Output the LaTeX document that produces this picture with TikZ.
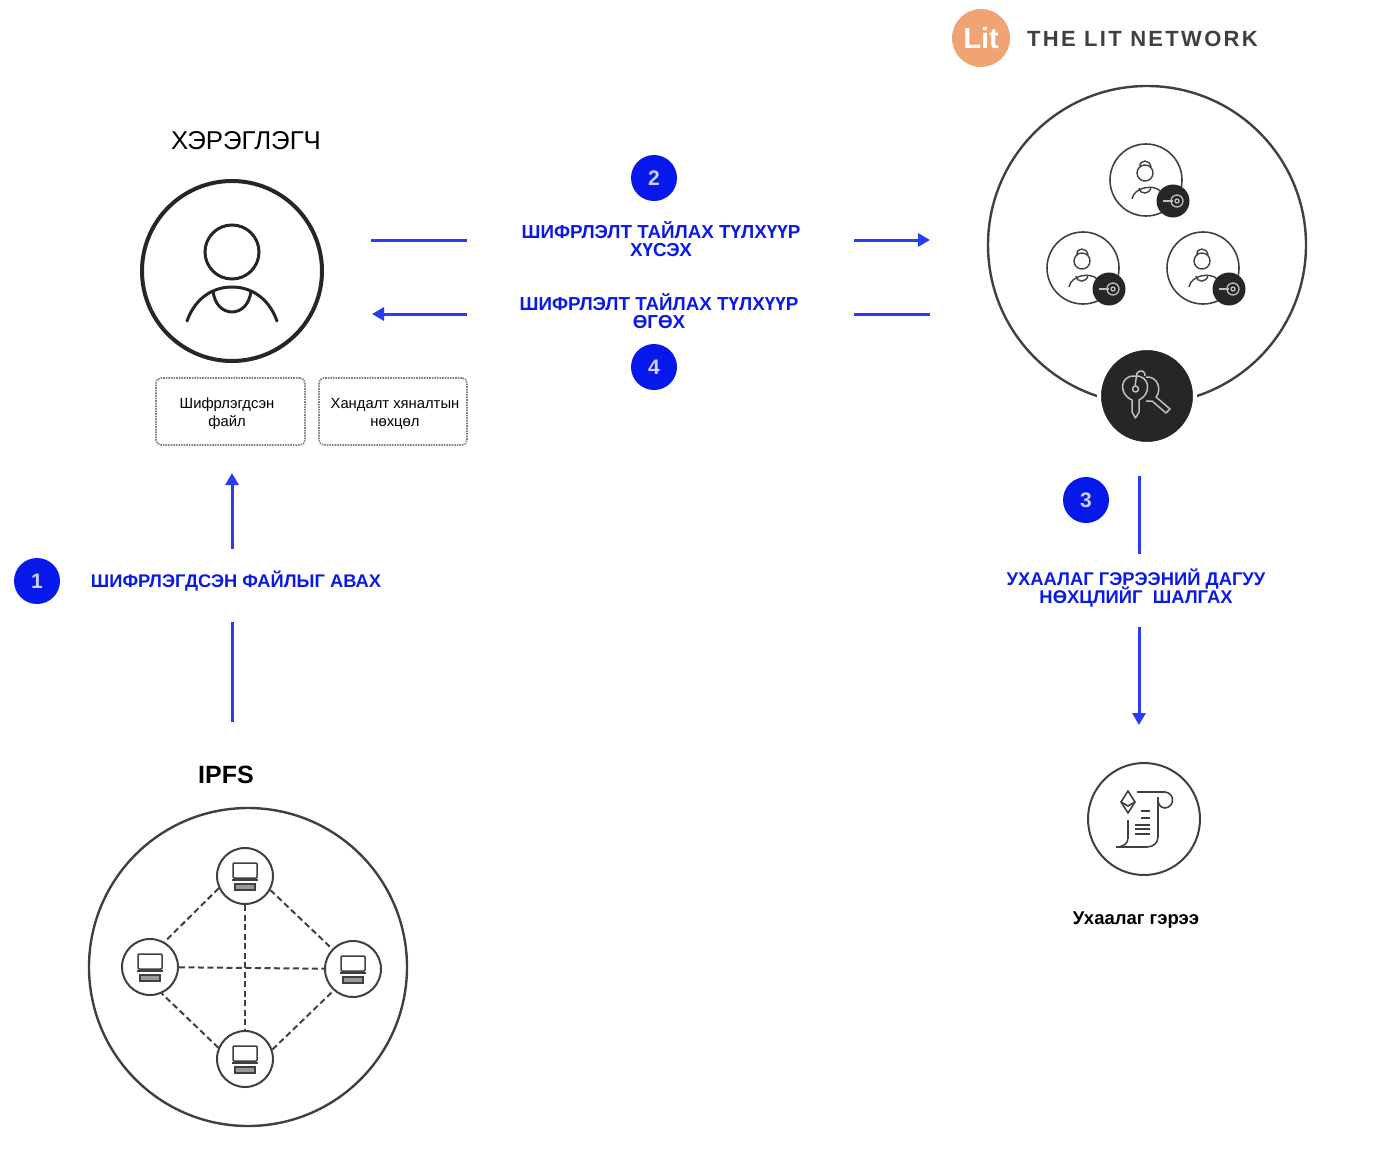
\documentclass[tikz,border=0pt]{standalone}
\usepackage{fontspec}
\usepackage{xcolor}
\usepackage{tikz}
\usetikzlibrary{arrows.meta}
\setmainfont{Liberation Sans}
\newfontfamily\logofont[LetterSpace=10.5]{Liberation Sans}
\definecolor{flowblue}{HTML}{2A3BF5}
\definecolor{textblue}{HTML}{0A1AE6}
\definecolor{badgeblue}{HTML}{0718EA}
\definecolor{litorange}{HTML}{F0A474}
\definecolor{keydark}{HTML}{262626}
\definecolor{icongray}{HTML}{404040}
\tikzset{
  flow/.style={draw=flowblue, line width=3pt},
  flowtip/.style={flow, -{Triangle[length=12pt,width=13pt]}},
  badge/.style={circle, fill=badgeblue, minimum size=46pt, inner sep=0pt, text=white!80!badgeblue, font=\bfseries\fontsize{21}{21}\selectfont},
  flowlabel/.style={text=textblue, align=center, inner sep=0pt, execute at begin node={\lineskiplimit=-20pt}, font=\bfseries\fontsize{18.8}{18}\selectfont},
  notebox/.style={draw=gray, densely dotted, line width=1.6pt, rounded corners=5pt, minimum height=67pt},
  notetext/.style={align=center, inner sep=0pt, font=\fontsize{14.8}{18}\selectfont},
  peer/.style={circle, draw=icongray, line width=1.6pt, minimum size=72pt, inner sep=0pt},
  keybadge/.style={circle, fill=keydark, minimum size=33pt, inner sep=0pt},
  hostnode/.style={circle, draw=icongray, fill=white, line width=2pt, minimum size=56pt, inner sep=0pt},
  link/.style={draw=icongray, line width=2pt, dash pattern=on 6pt off 3.5pt},
  ring/.style={circle, draw=icongray, line width=2.4pt, minimum size=318pt, inner sep=0pt}
}
\newcommand\peerface[1]{
  \begin{scope}[shift={(#1)}, draw=icongray, line width=1.4pt]
    \draw (-1, -7) circle (8);
    \draw (-6, -13) .. controls (-7, -21) and (4, -21) .. (5, -13);
    \draw (-14, 19) .. controls (-12, 7) and (8, 4) .. (14, 11);
    \draw (-7, 8) .. controls (-6, 15) and (4, 15) .. (5, 7);
  \end{scope}
}
\newcommand\peerkey[1]{
  \begin{scope}[shift={(#1)}, draw=white!75!black, line width=1.3pt]
    \draw[line width=2.6pt] (-10, 0) -- (0, 0);
    \draw (4, 0) circle (6);
    \draw (4, 0) circle (2);
  \end{scope}
}
\newcommand\laptop[1]{
  \begin{scope}[shift={(#1)}, draw=icongray, line width=1.5pt]
    \draw[rounded corners=1pt] (-12, -13) rectangle (12, 2);
    \draw[line width=2.5pt] (-13, 4) -- (13, 4);
    \draw[line width=1.2pt, fill=white!60!black] (-10, 8) rectangle (10, 14);
  \end{scope}
}
\begin{document}
\begin{tikzpicture}[x=1pt, y=-1pt]
    \useasboundingbox (0, 0) rectangle (1376, 1162);

    \coordinate (UserC) at (232, 271);
    \coordinate (ChainC) at (1147, 245);
    \coordinate (ReqLl) at (371, 240);
    \coordinate (ReqLr) at (467, 240);
    \coordinate (ReqRl) at (854, 240);
    \coordinate (ReqRr) at (930, 240);
    \coordinate (GiveLl) at (372, 314);
    \coordinate (GiveLr) at (467, 314);
    \coordinate (GiveRl) at (854, 314);
    \coordinate (GiveRr) at (930, 314);
    \coordinate (FetchT) at (232, 473);
    \coordinate (FetchM) at (232, 549);
    \coordinate (FetchN) at (232, 622);
    \coordinate (FetchB) at (232, 722);
    \coordinate (CheckT) at (1139, 476);
    \coordinate (CheckM) at (1139, 554);
    \coordinate (CheckN) at (1139, 627);
    \coordinate (CheckB) at (1139, 725);

    \node[circle, fill=litorange, minimum size=58pt, inner sep=0pt, text=white, font=\bfseries\fontsize{29}{29}\selectfont] (Lit) at (981, 38) {Lit};
    \node[anchor=west, inner sep=0pt, text=icongray, font=\logofont\bfseries\fontsize{22}{22}\selectfont] (LitName) at (1027, 39) {THE LIT NETWORK};

    \node[font=\fontsize{25.8}{26}\selectfont, inner sep=0pt] (UserName) at (246, 141) {ХЭРЭГЛЭГЧ};
    \node[circle, draw=keydark, line width=4pt, minimum size=180pt, inner sep=0pt] (User) at (UserC) {};
    \node[circle, draw=keydark, line width=3pt, minimum size=54pt, inner sep=0pt] (UserHead) at (232, 252) {};
    \draw[keydark, line width=3pt, line cap=round] (187, 321) .. controls (196, 296) and (215, 287) .. (232, 287) .. controls (249, 287) and (268, 296) .. (277, 321);
    \draw[keydark, line width=3pt] (213, 291) .. controls (216, 319) and (248, 319) .. (251, 291);

    \node[notebox, minimum width=149pt] (FileBox) at (230.5, 411.5) {};
    \node[notebox, minimum width=148pt] (RuleBox) at (393, 411.5) {};
    \node[notetext] (FileText) at (227, 414) {Шифрлэгдсэн\\файл};
    \node[notetext] (RuleText) at (395, 414) {Хандалт хяналтын\\нөхцөл};

    \node[badge] (Two) at (654, 178) {2};
    \node[badge] (Four) at (654, 367) {4};
    \node[badge] (One) at (37, 581) {1};
    \node[badge] (Three) at (1086, 500) {3};

    \node[flowlabel] (ReqText) at (661, 239.5) {ШИФРЛЭЛТ ТАЙЛАХ ТҮЛХҮҮР\\ХҮСЭХ};
    \node[flowlabel] (GiveText) at (659, 311.5) {ШИФРЛЭЛТ ТАЙЛАХ ТҮЛХҮҮР\\ӨГӨХ};
    \node[flowlabel, font=\bfseries\fontsize{18.3}{18}\selectfont] (FetchText) at (236, 581) {ШИФРЛЭГДСЭН ФАЙЛЫГ АВАХ};
    \node[flowlabel, font=\bfseries\fontsize{18.4}{18}\selectfont] (CheckText) at (1136, 587.5) {УХААЛАГ ГЭРЭЭНИЙ ДАГУУ\\НӨХЦЛИЙГ\ \ ШАЛГАХ};

    \draw[flow] (ReqLl) -- (ReqLr);
    \draw[flowtip] (ReqRl) -- (ReqRr);
    \draw[flowtip] (GiveLr) -- (GiveLl);
    \draw[flow] (GiveRl) -- (GiveRr);
    \draw[flowtip] (FetchM) -- (FetchT);
    \draw[flow] (FetchN) -- (FetchB);
    \draw[flow] (CheckT) -- (CheckM);
    \draw[flowtip] (CheckN) -- (CheckB);

    \node[ring] (Chain) at (ChainC) {};
    \node[peer] (PeerT) at (1146, 180) {};
    \node[peer] (PeerL) at (1083, 268) {};
    \node[peer] (PeerR) at (1203, 268) {};
    \peerface{PeerT}
    \peerface{PeerL}
    \peerface{PeerR}
    \node[keybadge] (KeyT) at (1173, 201) {};
    \node[keybadge] (KeyL) at (1109, 289) {};
    \node[keybadge] (KeyR) at (1229, 289) {};
    \peerkey{KeyT}
    \peerkey{KeyL}
    \peerkey{KeyR}

    \node[circle, fill=keydark, draw=white, line width=4pt, minimum size=96pt, inner sep=0pt] (Master) at (1147, 396) {};
    \begin{scope}[draw=white!75!black, line width=1.5pt, line join=round]
      \draw (1132, 400) .. controls (1118, 394) and (1120, 375) .. (1135, 376) .. controls (1150, 375) and (1152, 394) .. (1139, 400) -- (1139, 412) -- (1135.5, 418) -- (1132, 412) -- cycle;
      \draw (1135.5, 389) circle (3);
      \draw (1135, 386) -- (1137, 373) .. controls (1140, 369) and (1146, 371) .. (1145, 376);
      \draw (1146, 377) .. controls (1158, 376) and (1162, 390) .. (1156, 397) -- (1170, 409) -- (1166, 413) -- (1152, 401) -- (1146, 401);
    \end{scope}

    \node[font=\bfseries\fontsize{25}{25}\selectfont, inner sep=0pt] (IpfsName) at (226, 775) {IPFS};
    \node[ring] (Ipfs) at (248, 967) {};
    \node[hostnode] (HostT) at (245, 876) {};
    \node[hostnode] (HostL) at (150, 967) {};
    \node[hostnode] (HostR) at (353, 969) {};
    \node[hostnode] (HostB) at (245, 1059) {};
    \draw[link] (HostT.205) -- (HostL.60);
    \draw[link] (HostT.331) -- (HostR.136);
    \draw[link] (HostB.157) -- (HostL.294);
    \draw[link] (HostB.19) -- (HostR.228);
    \draw[link] (HostT) -- (HostB);
    \draw[link] (HostL) -- (HostR);
    \laptop{HostT}
    \laptop{HostL}
    \laptop{HostR}
    \laptop{HostB}

    \node[circle, draw=icongray, line width=2pt, minimum size=112pt, inner sep=0pt] (Contract) at (1144, 819) {};
    \begin{scope}[draw=icongray, line width=1.6pt]
      \draw (1128, 791) -- (1135, 802) -- (1128, 813) -- (1121, 802) -- cycle;
      \draw (1121, 802) -- (1128, 806) -- (1135, 802);
      \draw (1137, 792) -- (1165, 792) .. controls (1175, 793) and (1175, 807) .. (1165, 808) .. controls (1160, 808) and (1157, 803) .. (1158, 797);
      \draw (1158, 797) -- (1158, 837) .. controls (1158, 843) and (1153, 847) .. (1147, 847) -- (1116, 847);
      \draw (1128, 820) -- (1128, 838) .. controls (1128, 843) and (1124, 847) .. (1116, 847);
      \draw (1141, 811) -- (1150, 811);
      \draw (1141, 818) -- (1150, 818);
      \draw (1135, 825) -- (1150, 825);
      \draw (1135, 829) -- (1150, 829);
      \draw (1135, 834) -- (1150, 834);
    \end{scope}
    \node[font=\bfseries\fontsize{18.5}{18.5}\selectfont, inner sep=0pt] (ContractName) at (1136, 920) {Ухаалаг гэрээ};
\end{tikzpicture}
\end{document}
